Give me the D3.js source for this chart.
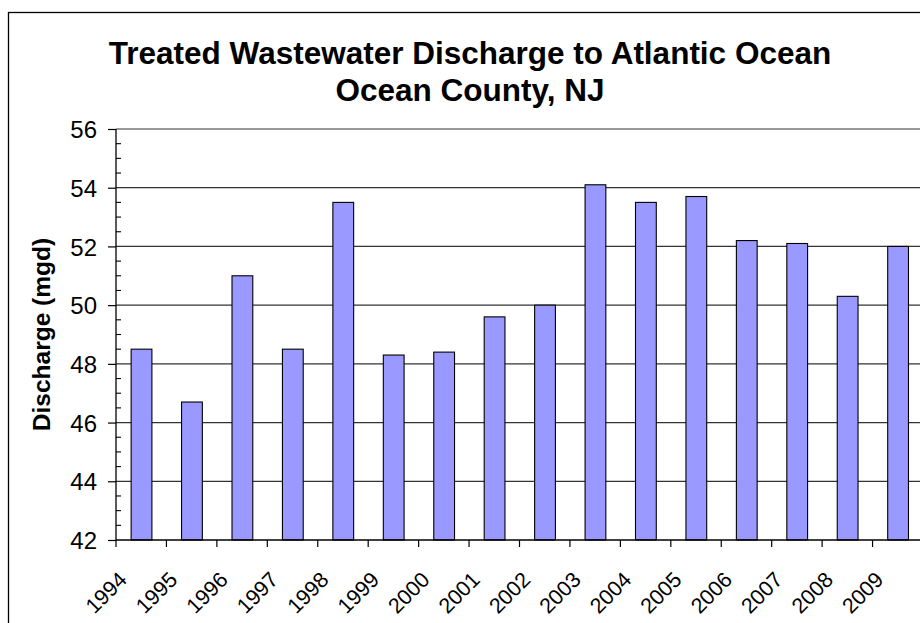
<!DOCTYPE html>
<html><head><meta charset="utf-8">
<script src="https://cdn.jsdelivr.net/npm/d3@7"></script>
<style>
html,body{margin:0;padding:0;background:#fff;overflow:hidden}
svg{display:block;font-family:"Liberation Sans",Arial,sans-serif}
</style></head><body>
<svg id="chart" width="920" height="623"></svg>
<script>
const years = ["1994","1995","1996","1997","1998","1999","2000","2001","2002","2003","2004","2005","2006","2007","2008","2009"];
const discharge = [48.5,46.7,51.0,48.5,53.5,48.3,48.4,49.6,50.0,54.1,53.5,53.7,52.2,52.1,50.3,52.0];
const yTicks = [42,44,46,48,50,52,54,56];
const titleLines = ["Treated Wastewater Discharge to Atlantic Ocean","Ocean County, NJ"];
const yTitle = "Discharge (mgd)";

(function(){
const svg = d3.select("#chart");
const pLeft = 116, pTop = 129, pBottom = 540, pRight = 923;

// outer border
svg.append("rect").attr("x",8.5).attr("y",12.5).attr("width",1000).attr("height",1000)
  .attr("fill","#fff").attr("stroke","#000").attr("stroke-width",1.3);

const x = d3.scaleBand().domain(years).range([pLeft,pRight]).paddingInner(0.6).paddingOuter(0.3);
const y = d3.scaleLinear().domain([42,56]).range([pBottom,pTop]);

// gridlines
svg.append("g").selectAll("line").data(yTicks.slice(1)).join("line")
  .attr("x1",pLeft).attr("x2",pRight).attr("y1",d=>y(d)).attr("y2",d=>y(d))
  .attr("stroke","#333").attr("stroke-width",1.2);

// bars
svg.append("g").selectAll("rect").data(discharge).join("rect")
  .attr("x",(d,i)=>x(years[i])).attr("width",x.bandwidth()+0.6)
  .attr("y",d=>y(d)).attr("height",d=>y(42)-y(d))
  .attr("fill","#9999FF").attr("stroke","#000").attr("stroke-width",1.1);

// y axis
const yAxis = d3.axisLeft(y).tickValues(yTicks).tickSize(8).tickPadding(11);
const gy = svg.append("g").attr("transform",`translate(${pLeft},0)`).call(yAxis);
gy.select(".domain").remove();
gy.selectAll(".tick line").attr("stroke","#000").attr("stroke-width",1.2);
gy.selectAll(".tick text").attr("font-size",24).attr("font-family","Liberation Sans, Arial").attr("fill","#000").attr("dy","0.36em");
// minor ticks
const minor = d3.range(42.5,56,0.5).filter(v=>Math.abs(v%2)>0.01);
svg.append("g").selectAll("line").data(minor).join("line")
  .attr("x1",pLeft).attr("x2",pLeft+5).attr("y1",d=>y(d)).attr("y2",d=>y(d))
  .attr("stroke","#000").attr("stroke-width",1.1);
svg.append("line").attr("x1",pLeft).attr("x2",pLeft).attr("y1",pTop).attr("y2",pBottom+1)
  .attr("stroke","#000").attr("stroke-width",1.3);

// x axis
svg.append("line").attr("x1",pLeft).attr("x2",pRight).attr("y1",pBottom).attr("y2",pBottom)
  .attr("stroke","#000").attr("stroke-width",1.3);
const step = x.step();
const boundaries = d3.range(years.length+1).map(i=>pLeft+i*step);
svg.append("g").selectAll("line").data(boundaries).join("line")
  .attr("x1",d=>d).attr("x2",d=>d).attr("y1",pBottom).attr("y2",pBottom+7)
  .attr("stroke","#000").attr("stroke-width",1.2);
svg.append("g").selectAll("text").data(years).join("text")
  .attr("transform",d=>`translate(${x(d)+x.bandwidth()/2-13},${581}) rotate(-45)`)
  .attr("text-anchor","end").attr("font-size",21.5).attr("fill","#000").text(d=>d);

// y title
svg.append("text").attr("transform",`translate(50,${(pTop+pBottom)/2}) rotate(-90)`)
  .attr("text-anchor","middle").attr("font-size",24.5).attr("font-weight","bold").text(yTitle);

// title
svg.append("g").selectAll("text").data(titleLines).join("text")
  .attr("x",470).attr("y",(d,i)=>64+i*37).attr("text-anchor","middle")
  .attr("font-size",31.5).attr("font-weight","bold").text(d=>d);
})();
</script>
</body></html>
